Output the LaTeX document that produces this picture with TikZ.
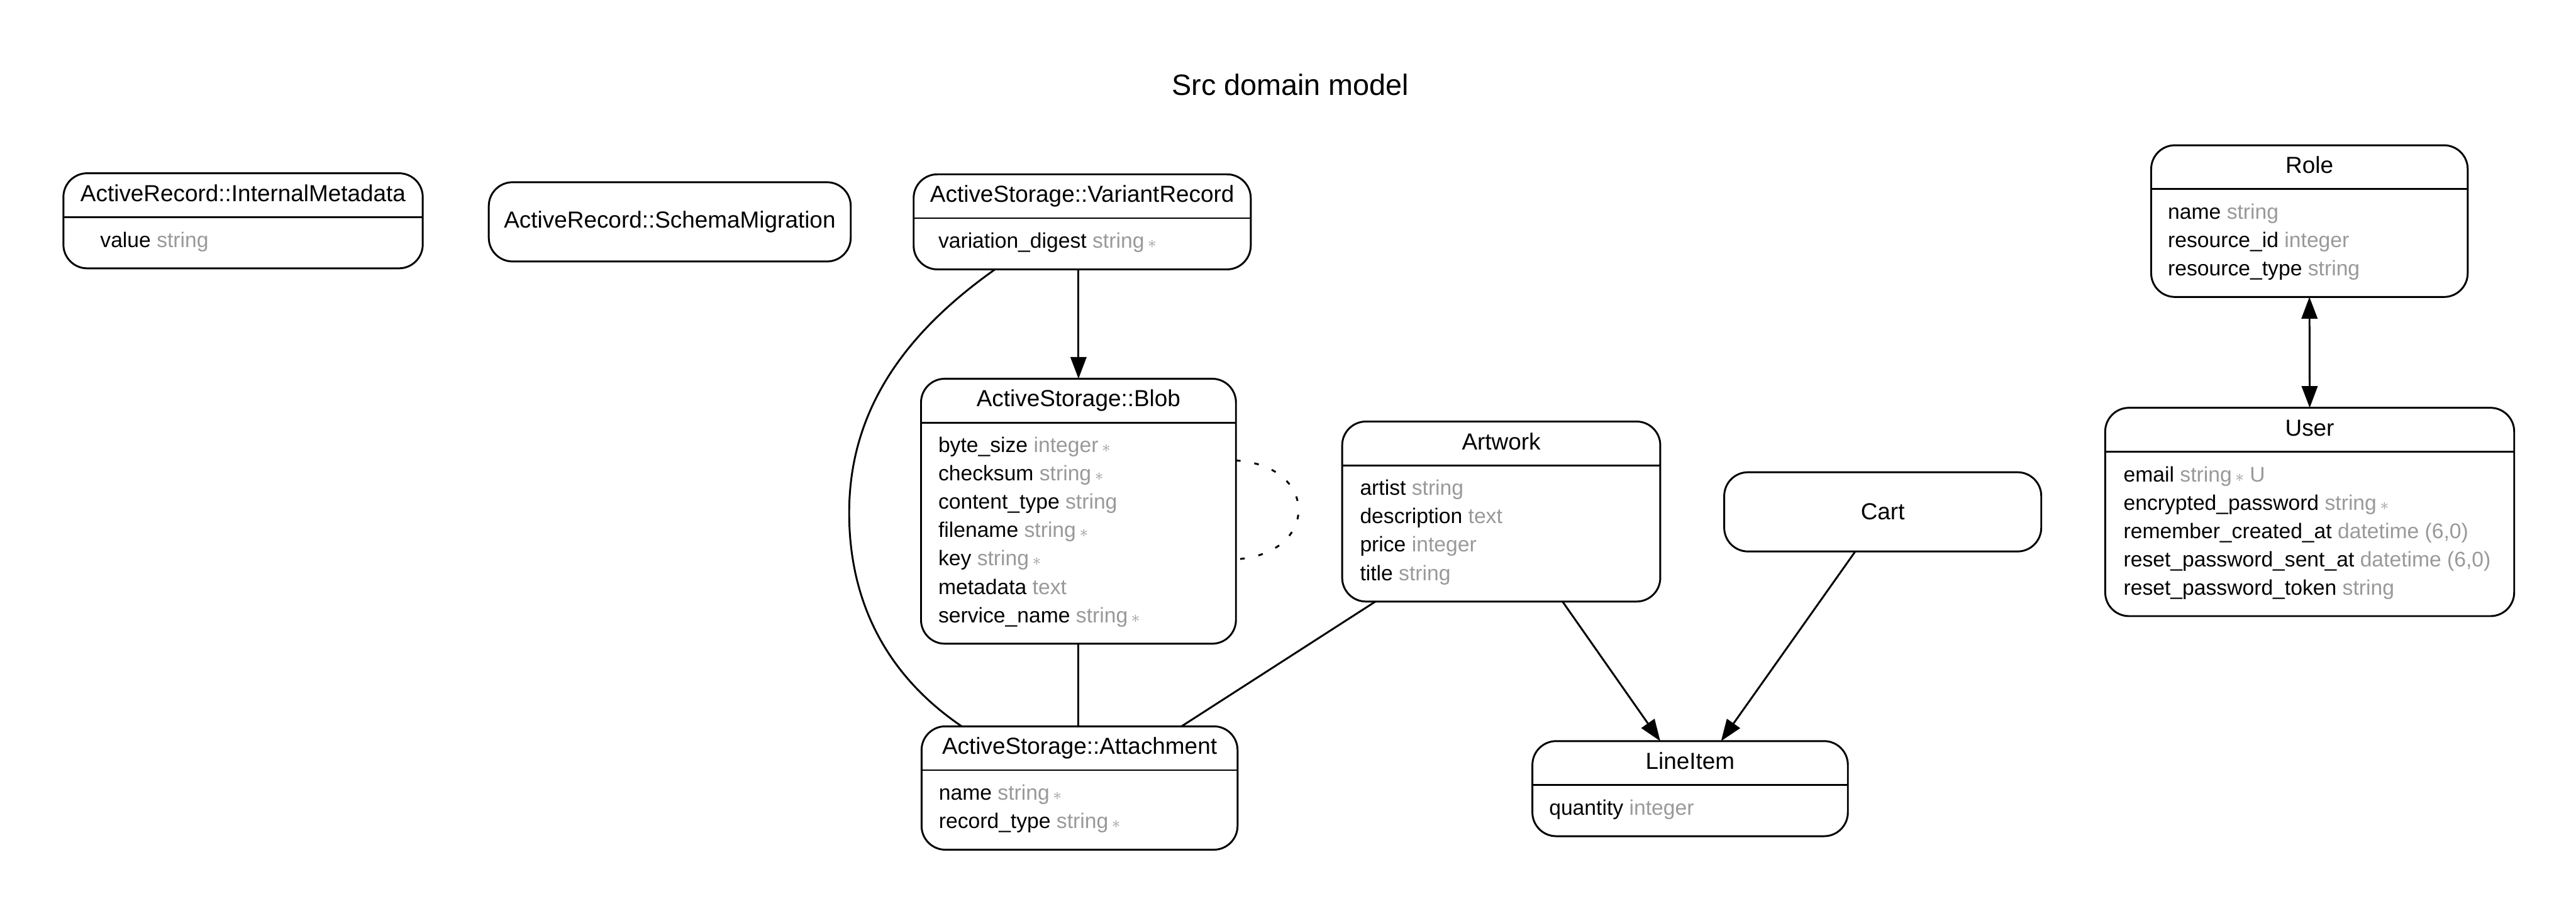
\documentclass[tikz,border=0pt]{standalone}
\usepackage{fontspec}
\setmainfont{Liberation Sans}
\usetikzlibrary{matrix,arrows.meta}
\definecolor{grey60}{RGB}{153,153,153}
\newcommand{\attype}[1]{\textcolor{grey60}{#1}}
\newcommand{\notnull}{\,\textcolor{grey60}{\fontsize{9}{10}\selectfont$\ast$}}

\begin{document}
\begin{tikzpicture}[line width=1pt,
entity/.style={draw, rounded corners=0.45cm, inner sep=0pt, outer sep=0pt, anchor=north},
plain/.style={draw, rounded corners=0.45cm, inner sep=0pt, outer sep=0pt,
    font=\fontsize{12.5}{15}\selectfont},
head/.style={anchor=base, inner sep=0pt, font=\fontsize{12.5}{15}\selectfont},
title/.style={anchor=base, inner sep=0pt, font=\fontsize{15.85}{19}\selectfont},
attrs/.style={matrix of nodes, anchor=north west, inner sep=0pt, row sep=0.136cm,
    nodes={anchor=base west, inner sep=0pt, text height=0.30cm, text depth=0.10cm,
    font=\fontsize{11.4}{13.7}\selectfont}},
hasmany/.style={-{Triangle[length=0.41cm,width=0.30cm]}},
oneone/.style={{Triangle[length=0.41cm,width=0.30cm]}-{Triangle[length=0.41cm,width=0.30cm]}},
selfref/.style={dash pattern=on 2.5pt off 7.5pt}]
\useasboundingbox (0,0) rectangle (48.75,-17.33);

\node[title] (title) at (24.42,-1.80) {Src domain model};

\node[entity, minimum width=6.80cm, minimum height=1.80cm] (intmeta) at (4.60,-3.28) {};
\node[head] (intmeta-h) at ([yshift=-0.53cm]intmeta.north) {ActiveRecord::InternalMetadata};
\draw ([yshift=-0.83cm]intmeta.north west) -- ([yshift=-0.83cm]intmeta.north east);
\matrix[attrs] (intmeta-a) at ([shift={(0.68,-1.08)}]intmeta.north west) {
value \attype{string}\\};

\node[plain, minimum width=6.85cm, minimum height=1.50cm] (schema) at (12.675,-4.20) {ActiveRecord::SchemaMigration};

\node[entity, minimum width=6.38cm, minimum height=1.80cm] (varrec) at (20.48,-3.30) {};
\node[head] (varrec-h) at ([yshift=-0.53cm]varrec.north) {ActiveStorage::VariantRecord};
\draw ([yshift=-0.83cm]varrec.north west) -- ([yshift=-0.83cm]varrec.north east);
\matrix[attrs] (varrec-a) at ([shift={(0.45,-1.08)}]varrec.north west) {
variation\_digest \attype{string}\notnull\\};

\node[entity, minimum width=5.96cm, minimum height=5.016cm] (blob) at (20.41,-7.17) {};
\node[head] (blob-h) at ([yshift=-0.53cm]blob.north) {ActiveStorage::Blob};
\draw ([yshift=-0.83cm]blob.north west) -- ([yshift=-0.83cm]blob.north east);
\matrix[attrs] (blob-a) at ([shift={(0.31,-1.08)}]blob.north west) {
byte\_size \attype{integer}\notnull\\
checksum \attype{string}\notnull\\
content\_type \attype{string}\\
filename \attype{string}\notnull\\
key \attype{string}\notnull\\
metadata \attype{text}\\
service\_name \attype{string}\notnull\\};

\node[entity, minimum width=5.98cm, minimum height=2.336cm] (attach) at (20.43,-13.75) {};
\node[head] (attach-h) at ([yshift=-0.53cm]attach.north) {ActiveStorage::Attachment};
\draw ([yshift=-0.83cm]attach.north west) -- ([yshift=-0.83cm]attach.north east);
\matrix[attrs] (attach-a) at ([shift={(0.31,-1.08)}]attach.north west) {
name \attype{string}\notnull\\
record\_type \attype{string}\notnull\\};

\node[entity, minimum width=6.02cm, minimum height=3.408cm] (artwork) at (28.41,-7.98) {};
\node[head] (artwork-h) at ([yshift=-0.53cm]artwork.north) {Artwork};
\draw ([yshift=-0.83cm]artwork.north west) -- ([yshift=-0.83cm]artwork.north east);
\matrix[attrs] (artwork-a) at ([shift={(0.32,-1.08)}]artwork.north west) {
artist \attype{string}\\
description \attype{text}\\
price \attype{integer}\\
title \attype{string}\\};

\node[plain, minimum width=6.00cm, minimum height=1.50cm] (cart) at (35.63,-9.69) {Cart};

\node[entity, minimum width=5.97cm, minimum height=1.80cm] (lineitem) at (31.985,-14.03) {};
\node[head] (lineitem-h) at ([yshift=-0.53cm]lineitem.north) {LineItem};
\draw ([yshift=-0.83cm]lineitem.north west) -- ([yshift=-0.83cm]lineitem.north east);
\matrix[attrs] (lineitem-a) at ([shift={(0.30,-1.08)}]lineitem.north west) {
quantity \attype{integer}\\};

\node[entity, minimum width=5.99cm, minimum height=2.872cm] (role) at (43.705,-2.75) {};
\node[head] (role-h) at ([yshift=-0.53cm]role.north) {Role};
\draw ([yshift=-0.83cm]role.north west) -- ([yshift=-0.83cm]role.north east);
\matrix[attrs] (role-a) at ([shift={(0.30,-1.08)}]role.north west) {
name \attype{string}\\
resource\_id \attype{integer}\\
resource\_type \attype{string}\\};

\node[entity, minimum width=7.74cm, minimum height=3.944cm] (user) at (43.71,-7.72) {};
\node[head] (user-h) at ([yshift=-0.53cm]user.north) {User};
\draw ([yshift=-0.83cm]user.north west) -- ([yshift=-0.83cm]user.north east);
\matrix[attrs] (user-a) at ([shift={(0.33,-1.08)}]user.north west) {
email \attype{string}\notnull\ \attype{U}\\
encrypted\_password \attype{string}\notnull\\
remember\_created\_at \attype{datetime (6,0)}\\
reset\_password\_sent\_at \attype{datetime (6,0)}\\
reset\_password\_token \attype{string}\\};

\coordinate (bend) at (16.07,-9.71);
\draw[hasmany] (varrec.south -| blob.north) -- (blob.north);
\draw ([xshift=-1.65cm]varrec.south) .. controls +(-1.64,-1.16) and +(0,2.0) .. (bend)
  .. controls +(0,-1.6) and +(-1.49,1.01) .. ([xshift=-2.23cm]attach.north);
\draw (blob.south) -- (blob.south |- attach.north);
\draw[selfref] ([yshift=0.96cm]blob.east) .. controls +(1.58,-0.1) and +(1.58,0.1) .. ([yshift=-0.91cm]blob.east);
\draw ([xshift=-2.38cm]artwork.south) -- ([xshift=1.93cm]attach.north);
\draw[hasmany] ([xshift=1.16cm]artwork.south) -- ([xshift=-0.565cm]lineitem.north);
\draw[hasmany] ([xshift=-0.52cm]cart.south) -- ([xshift=0.585cm]lineitem.north);
\draw[oneone] (role.south) -- (user.north);
\end{tikzpicture}
\end{document}
